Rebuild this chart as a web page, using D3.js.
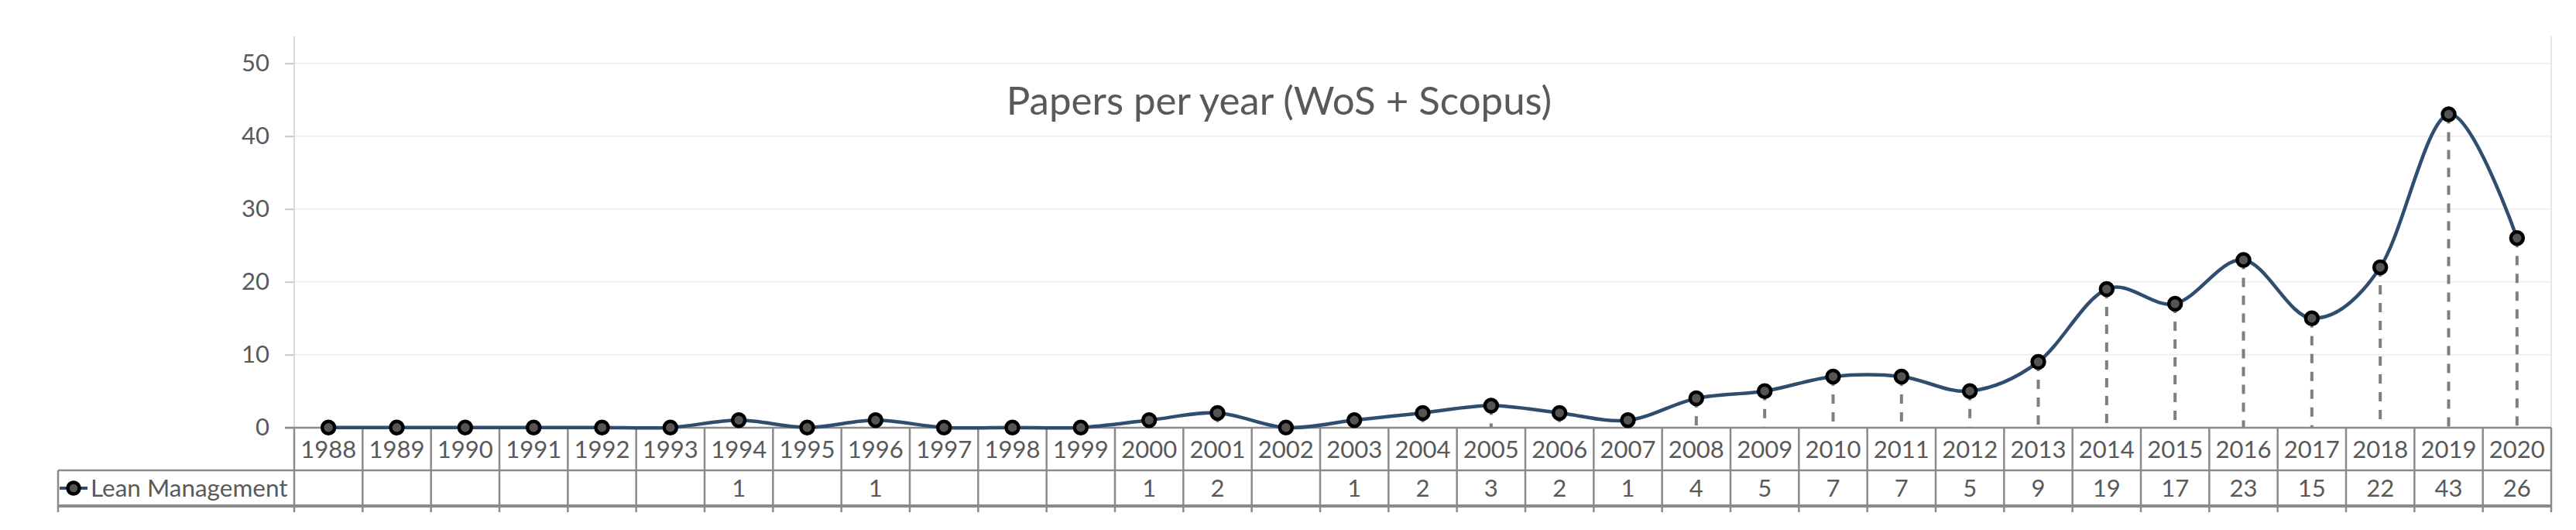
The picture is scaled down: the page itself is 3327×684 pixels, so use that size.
<!DOCTYPE html>
<html>
<head>
<meta charset="utf-8">
<script src="https://cdn.jsdelivr.net/npm/d3@7"></script>
<style>
  html, body { margin: 0; padding: 0; background: #fff; }
  svg { display: block; }
  text { font-family: Lato, "Open Sans", sans-serif; fill: #595959; }
</style>
</head>
<body>
<svg id="chart" width="3327" height="684"></svg>
<script>
// ---- data ----
const years = ["1988","1989","1990","1991","1992","1993","1994","1995","1996","1997","1998",
  "1999","2000","2001","2002","2003","2004","2005","2006","2007","2008","2009","2010",
  "2011","2012","2013","2014","2015","2016","2017","2018","2019","2020"];
const papers = [0,0,0,0,0,0,1,0,1,0,0,0,1,2,0,1,2,3,2,1,4,5,7,7,5,9,19,17,23,15,22,43,26];
const yTicks = [0, 10, 20, 30, 40, 50];
const seriesName = "Lean Management";
const chartTitle = "Papers per year (WoS + Scopus)";

// ---- layout ----
const plotL = 380, plotR = 3295, plotTop = 47;
const rowYearTop = 552, rowYearBot = 607, rowValBot = 653, stubBot = 661;
const tableL = 75;

const svg = d3.select("#chart");

const x = d3.scaleBand().domain(years).range([plotL, plotR]).paddingInner(0).paddingOuter(0);
const y = d3.scaleLinear().domain([0, 50]).range([551.7, 81.7]);
const cx = d => x(d) + x.bandwidth() / 2;

// gridlines
svg.append("g").selectAll("line").data(yTicks.filter(t => t > 0)).join("line")
  .attr("x1", plotL).attr("x2", plotR)
  .attr("y1", d => y(d)).attr("y2", d => y(d))
  .attr("stroke", "#efefef").attr("stroke-width", 2);

// y axis via d3.axisLeft
const yAxis = d3.axisLeft(y).tickValues(yTicks).tickSize(12).tickPadding(20).tickFormat(d3.format("d"));
const gy = svg.append("g").attr("transform", `translate(${plotL},0)`).call(yAxis);
gy.select(".domain").remove();
gy.selectAll(".tick line").attr("stroke", "#c8c8c8").attr("stroke-width", 2);
gy.selectAll(".tick text").style("font-family", "Lato, sans-serif").style("font-size", "31px").attr("fill", "#595959");
gy.select(".tick line").attr("stroke", "#7f7f7f");

// y axis line and right border
svg.append("line").attr("x1", plotL).attr("x2", plotL).attr("y1", plotTop).attr("y2", rowYearTop)
  .attr("stroke", "#d9d9d9").attr("stroke-width", 2);
svg.append("line").attr("x1", plotR).attr("x2", plotR).attr("y1", plotTop).attr("y2", rowYearTop)
  .attr("stroke", "#e6e6e6").attr("stroke-width", 2);

// title
svg.append("text").attr("x", 1652).attr("y", 148).attr("text-anchor", "middle")
  .style("font-size", "51px").attr("fill", "#595959").text(chartTitle);

// drop lines
svg.append("g").selectAll("line").data(years.map((yr, i) => ({yr, v: papers[i]})).filter(d => d.v > 0))
  .join("line")
  .attr("x1", d => cx(d.yr)).attr("x2", d => cx(d.yr))
  .attr("y1", d => y(d.v)).attr("y2", y(0))
  .attr("stroke", "#7f7f7f").attr("stroke-width", 4).attr("stroke-dasharray", "12,11");

// table grid
const tg = svg.append("g").attr("stroke", "#8a8a8a").attr("stroke-width", 2.5);
tg.append("line").attr("x1", plotL - 12).attr("x2", plotR).attr("y1", rowYearTop).attr("y2", rowYearTop);
tg.append("line").attr("x1", tableL).attr("x2", plotR).attr("y1", rowYearBot).attr("y2", rowYearBot);
tg.append("line").attr("x1", tableL).attr("x2", plotR).attr("y1", rowValBot).attr("y2", rowValBot).attr("stroke-width", 4);
tg.append("line").attr("x1", tableL).attr("x2", tableL).attr("y1", rowYearBot).attr("y2", stubBot);
const colEdges = years.map(d => x(d)).concat([plotR]);
tg.selectAll("line.col").data(colEdges).join("line").attr("class", "col")
  .attr("x1", d => d).attr("x2", d => d).attr("y1", rowYearTop).attr("y2", stubBot);

// year labels
svg.append("g").selectAll("text").data(years).join("text")
  .attr("x", d => cx(d)).attr("y", (rowYearTop + rowYearBot) / 2 + 11)
  .attr("text-anchor", "middle").style("font-size", "31px").text(d => d);

// value labels (blank for zero)
svg.append("g").selectAll("text").data(years.map((yr, i) => ({yr, v: papers[i]}))).join("text")
  .attr("x", d => cx(d.yr)).attr("y", (rowYearBot + rowValBot) / 2 + 11)
  .attr("text-anchor", "middle").style("font-size", "31px").text(d => d.v > 0 ? d.v : "");

// legend key in table
const legY = (rowYearBot + rowValBot) / 2;
svg.append("line").attr("x1", 77).attr("x2", 113).attr("y1", legY).attr("y2", legY)
  .attr("stroke", "#2f4d6e").attr("stroke-width", 4);
svg.append("circle").attr("cx", 95).attr("cy", legY).attr("r", 7.5)
  .attr("fill", "#555").attr("stroke", "#000").attr("stroke-width", 4.5);
svg.append("text").attr("x", 117).attr("y", legY + 11).style("font-size", "31.5px").text(seriesName);

// smooth line
const pts = years.map((yr, i) => [cx(yr), y(papers[i])]);
svg.append("path").datum(pts)
  .attr("d", d3.line().curve(d3.curveCardinal.tension(0)))
  .attr("fill", "none").attr("stroke", "#2f4d6e").attr("stroke-width", 4.5);

// markers
svg.append("g").selectAll("circle").data(pts).join("circle")
  .attr("cx", d => d[0]).attr("cy", d => d[1]).attr("r", 8)
  .attr("fill", "#555").attr("stroke", "#000").attr("stroke-width", 4.5);
</script>
</body>
</html>
